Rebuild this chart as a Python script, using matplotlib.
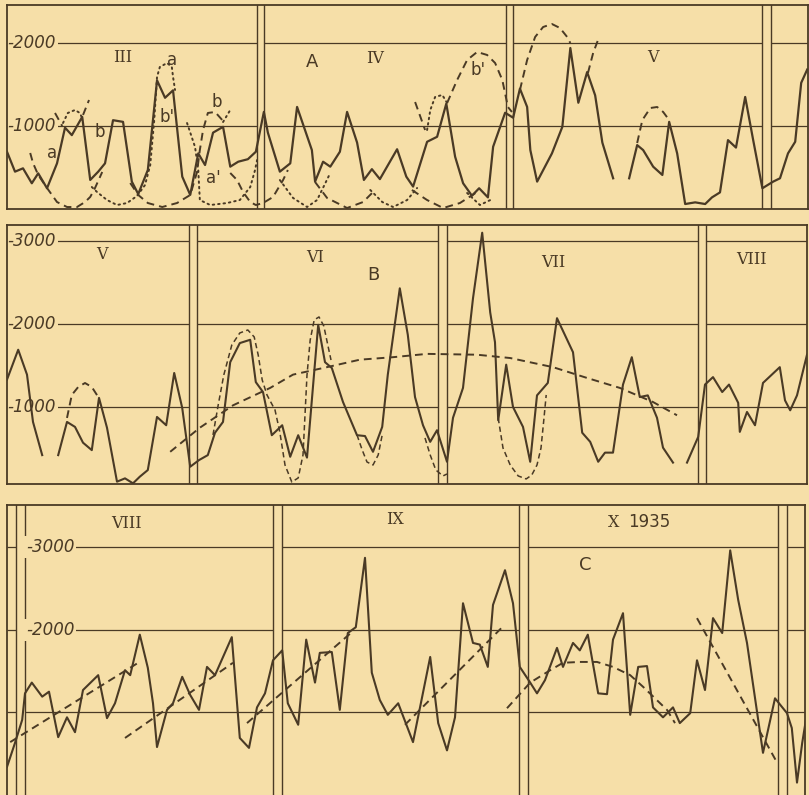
import numpy as np
import matplotlib.pyplot as plt

nan = np.nan
BG = '#f6dfa8'
INK = '#4a3a25'

# ---------------- panel A : III - V ----------------
a_day = [0, 1, 2, 3.1, 3.9, 5, 6.25, 7.25, 8.1, 9.4, 10.4, 11.4, 12.25, 13.25, 14.5, 15.6,
         16.4, 17.6, 18.75, 19.75, 20.75, 21.9, 22.9, 23.9, 24.75, 25.75, 27, 27.9, 28.9, 30.1,
         31.1, 32.1, 32.6, 34.1, 35.4, 36.25, 38.1, 38.5, 39.5, 40.4, 41.6, 42.5, 43.75, 44.6,
         45.6, 46.6, 48.75, 49.9, 50.75, 52.5, 53.75, 54.9, 56, 57, 58.1, 59, 60.1, 60.75, 62.25,
         63.25, 64.1, 65, 65.4, 66.25, 68.1, 69.4, 70.4, 71.4, 72.5, 73.5, 74.4, 75.75, nan,
         77.75, 78.75, 79.5, 80.75, 81.9, 82.75, 83.75, 84.75, 86, 87.25, 88.1, 89.1, 90.1,
         91.1, 92.25, 93.25, 94.4, 95.75, 96.6, 97.6, 98.5, 99.25, 100]
a_val = [690, 450, 490, 310, 430, 250, 550, 980, 890, 1110, 350, 450, 550, 1070, 1050, 330,
         180, 470, 1550, 1340, 1430, 390, 170, 670, 530, 920, 990, 510, 570, 600,
         690, 1170, 920, 450, 550, 1230, 710, 330, 570, 510, 690, 1170, 800, 350,
         480, 360, 720, 390, 270, 810, 870, 1270, 630, 310, 160, 250, 140, 750, 1160,
         1100, 1450, 1230, 710, 330, 670, 990, 1940, 1280, 1650, 1370, 800, 370, nan,
         370, 770, 710, 510, 410, 1050, 670, 60, 80, 60, 140, 200, 830,
         740, 1350, 830, 250, 330, 370, 670, 810, 1520, 1680]

# dashed envelopes (A)
a_dash_1 = [(6, 1157), (6.9, 1000)]
a_dash_2 = [(9.5, 1133), (10.25, 1313)]
a_dash_3 = [(2.9, 675), (3.25, 554), (3.9, 410), (5, 253), (6.25, 84), (7.5, 24), (8.75, 24),
            (9.75, 84), (10.4, 145), (11, 253), (11.9, 446)]
a_dash_4 = [(15.4, 313), (16.4, 169), (17.6, 72), (19.4, 24), (21.25, 72), (22.9, 169),
            (23.75, 446), (24.1, 711), (24.5, 952), (25.1, 1157), (26, 1169), (26.9, 1072)]
a_dash_5 = [(27.9, 434), (28.75, 349), (29.5, 205), (30.4, 84), (31.1, 48), (32, 72),
            (33.25, 145), (34.5, 349), (35.1, 470)]
a_dash_6 = [(38.5, 325), (40, 133), (42.5, 12), (44.5, 84), (46, 229)]
a_dash_7 = [(50.6, 229), (52.5, 108), (54.5, 12), (56.6, 72), (58.75, 205)]
a_dash_8 = [(51, 1289), (52.25, 952)]
a_dash_9 = [(55, 1277), (56.25, 1554), (57.5, 1795), (58.75, 1892), (60, 1856), (61, 1759),
            (61.9, 1554), (62.6, 1229), (63.1, 1169)]
a_dash_10 = [(64.1, 1434), (65, 1795), (66, 2073), (67, 2193), (68.1, 2229), (69.1, 2181),
             (70, 2073), (70.4, 2000)]
a_dash_11 = [(72.6, 1639), (73.25, 1880), (74, 2073)]
a_dash_12 = [(78.75, 795), (79.4, 1072), (80.4, 1217), (81.25, 1229), (82, 1169), (82.75, 1072)]

# dotted envelopes (A)
a_dot_1 = [(7, 1036), (7.6, 1157), (8.5, 1193), (9.1, 1157), (9.5, 1072)]
a_dot_2 = [(10.6, 265), (11.25, 205), (12.5, 108), (13.75, 48), (15, 72), (16.25, 157),
           (17.25, 289), (17.9, 530), (18.4, 1072), (18.75, 1591), (19.1, 1711), (20, 1759),
           (20.6, 1711), (20.75, 1591), (21, 1434)]
a_dot_3 = [(27, 1048), (27.9, 1193)]
a_dot_4 = [(22.5, 1036), (23, 892), (23.5, 747), (23.9, 470), (24.1, 108), (25.4, 48),
           (27.5, 72), (29.1, 108), (30.4, 265), (31, 470), (31.25, 590)]
a_dot_5 = [(34.1, 349), (35.75, 133), (37.5, 24), (38.75, 108), (40.4, 434)]
a_dot_6 = [(45.4, 229), (46.9, 84), (48.25, 24), (50, 108), (51.25, 253)]
a_dot_7 = [(57.5, 193), (59.1, 48), (60.4, 108)]
a_dot_8 = [(52.5, 952), (52.9, 1193), (53.5, 1350), (54.4, 1374), (55, 1277)]

# ---------------- panel B : V - VIII ----------------
b_day = [0, 1.4, 2.5, 3.25, 4.4, nan, 6.4, 7.5, 8.5, 9.5, 10.6, 11.5, 12.5, 13.75, 14.75, 15.75,
         16.6, 17.6, 18.75, 19.9, 20.9, 21.9, 22.9, 24, 25.1, 26, 27, 27.9, 29.1, 30.4, 31.1, 32,
         33.1, 34.4, 35.4, 36.4, 37.5, 38.9, 39.75, 40.6, 42, 43.75, 44.75, 45.75, 46.9, 47.6,
         49.1, 50.1, 51, 52, 52.9, 53.75, 55, 55.75, 57, 58.25, 59.4, 60.4, 61, 61.4, 62.4,
         63.25, 64.5, 65.4, 66.25, 67.6, 68.75, 70.75, 71.9, 72.9, 73.9, 74.75, 75.75, 77,
         78.1, 79.1, 80.1, 81.25, 82, 83.25, nan, 85, 86.4, 87.25, 88.25, 89.4, 90.25, 91.4,
         91.6, 92.5, 93.5, 94.5, 96.6, 97.25, 97.9, 98.75, 100]
b_val = [1330, 1690, 1390, 820, 420, nan, 420, 820, 760, 570, 480, 1110, 750, 100, 140, 80,
         160, 240, 880, 780, 1410, 990, 280, 360, 420, 690, 820, 1540, 1770, 1810, 1300, 1180,
         660, 780, 400, 660, 390, 1990, 1540, 1470, 1060, 660, 650, 460, 760, 1390,
         2430, 1870, 1120, 780, 580, 720, 340, 870, 1230, 2310, 3100, 2140, 1780, 840, 1510,
         1000, 760, 340, 1140, 1290, 2070, 1660, 690, 580, 340, 450, 450, 1270,
         1600, 1120, 1140, 870, 510, 330, nan, 330, 640, 1270, 1360, 1180, 1270, 1050,
         700, 940, 780, 1290, 1480, 1080, 960, 1140, 1630]

b_trend = [(20.4, 460), (24.1, 750), (28.25, 1020), (32.9, 1230), (35.75, 1390), (40, 1480),
           (44.1, 1570), (48.25, 1600), (52.5, 1640), (58.75, 1630), (62.9, 1590),
           (68.25, 1480), (72.5, 1350), (76.6, 1230), (80.75, 1060), (83.75, 900)]
b_cap = [(7.5, 868), (8.1, 1145), (8.9, 1241), (9.75, 1289), (10.6, 1241), (11.4, 1121)]
b_env_1 = [(25.75, 663), (26.4, 1024), (27.1, 1386), (28.1, 1747), (29.1, 1892), (30.1, 1928),
           (30.9, 1844), (31.4, 1627), (31.9, 1326), (32.5, 1145), (33.5, 964), (34.1, 699),
           (34.75, 301), (35.6, 96), (36.4, 145), (37, 422), (37.25, 904), (37.5, 1386),
           (37.9, 1808), (38.4, 2049), (39, 2085), (39.6, 1976), (40.1, 1747), (40.5, 1566)]
b_env_2 = [(43.75, 663), (44.4, 482), (45, 337), (45.75, 301), (46.4, 422), (46.9, 663)]
b_env_3 = [(52.25, 627), (52.9, 422), (53.6, 241), (54.5, 169), (55, 193)]
b_env_4 = [(61.4, 868), (62, 506), (62.9, 301), (63.9, 169), (64.9, 133), (65.6, 181),
           (66.25, 301), (66.75, 506), (67.1, 843), (67.4, 1145)]

# ---------------- panel C : VIII - X 1935 ----------------
c_day = [0, 1, 1.9, 2.25, 3.1, 4.4, 5.25, 6.4, 7.5, 8.5, 9.5, 11.4, 12.5, 13.5, 14.75, 15.4,
         16.6, 17.6, 18.25, 18.75, 20, 20.75, 21.9, 22.9, 24, 25, 26, 28.1, 29.1, 30.25, 31.25,
         32.25, 33.25, 34.4, 35.1, 36.4, 37.4, 38.5, 39.1, 40.6, 41.6, 42.6, 43.6, 44.75, 45.6,
         46.6, 47.6, 48.9, 50.75, 51.9, 52.9, 53.9, 55, 56, 57, 58.25, 59.1, 60.1, 60.75, 62.25,
         63.25, 64.1, 65.4, 66.25, 67.25, 68.75, 69.5, 70.75, 71.6, 72.6, 73.9, 75, 75.75, 77,
         77.9, 78.9, 80, 80.75, 82, 83.25, 84.1, 85.4, 86.25, 87.25, 88.25, 89.4, 90.4, 91.4,
         92.5, 94.5, 96, 97.5, 98.1, 98.75, 99.4, 100]
c_val = [340, 630, 910, 1230, 1360, 1190, 1250, 700, 940, 760, 1270, 1450, 930, 1110, 1510, 1450,
         1940, 1540, 1110, 580, 1030, 1110, 1430, 1210, 1030, 1550, 1450, 1910, 690, 570, 1060,
         1230, 1630, 1750, 1110, 850, 1880, 1360, 1720, 1730, 1030, 1960, 2030, 2870, 1480,
         1150, 970, 1110, 640, 1190, 1670, 870, 540, 940, 2320, 1840, 1820, 1550, 2300, 2720,
         2320, 1550, 1360, 1230, 1390, 1780, 1550, 1840, 1750, 1940, 1230, 1220, 1880, 2200,
         970, 1550, 1560, 1060, 940, 1060, 870, 990, 1630, 1270, 2140, 1960, 2960, 2360,
         1840, 510, 1170, 990, 810, 150, 630, 990]

c_dash_1 = [(0.4, 640), (16.4, 1600)]
c_dash_2 = [(14.75, 690), (28.25, 1600)]
c_dash_3 = [(30, 870), (43.1, 1970)]
c_dash_4 = [(49.75, 850), (61.9, 2030)]
c_dash_5 = [(62.5, 1050), (65.4, 1360), (67.9, 1510), (69.5, 1600), (71.6, 1610), (73.75, 1610),
            (75.75, 1550), (77.9, 1450), (79.5, 1310), (81, 1170), (82.5, 1030), (83.5, 870)]
c_dash_6 = [(86.25, 2140), (96.1, 420)]

# ---------------- drawing ----------------
W, H = 809, 795
fig = plt.figure(figsize=(W / 100, H / 100), dpi=100, facecolor=BG)


def px_axes(left, top, right, bottom):
    return fig.add_axes([left / W, 1 - bottom / H, (right - left) / W, (bottom - top) / H])


def setup(ax, xmax, ylo, yhi, seps, levels, hide_bottom=False):
    ax.set_xlim(0, xmax)
    ax.set_ylim(ylo, yhi)
    ax.set_facecolor('none')
    ax.set_xticks([])
    ax.set_yticks([])
    for s in ax.spines.values():
        s.set_color(INK)
        s.set_linewidth(1.3)
        s.set_zorder(5)
    if hide_bottom:
        ax.spines['bottom'].set_visible(False)
    edges = [0] + [x for pair in seps for x in pair] + [xmax]
    for l, r in seps:
        ax.axvline(l, color=INK, lw=1.0, zorder=1)
        ax.axvline(r, color=INK, lw=1.0, zorder=1)
    for lev in levels:
        for i in range(0, len(edges), 2):
            ax.hlines(lev, edges[i], edges[i + 1], color=INK, lw=0.9, zorder=1)


def curve(ax, pts, style):
    x, y = zip(*pts)
    if style == 'dash':
        ax.plot(x, y, color=INK, lw=1.4, ls=(0, (4, 2.6)), zorder=3)
    elif style == 'dot':
        ax.plot(x, y, color=INK, lw=1.4, ls=(0, (0.8, 2.0)), dash_capstyle='round', zorder=3)
    else:
        ax.plot(x, y, color=INK, lw=1.1, ls=(0, (3.5, 2.2)), zorder=3)


def ylabel(ax, x, y, s):
    ax.text(x, y, s, ha='left', va='center', fontsize=12, style='italic', color=INK,
            bbox=dict(fc=BG, ec='none', pad=1.5), zorder=2)


def roman(ax, x, y, s):
    ax.text(x, y, s, ha='center', va='center', fontsize=11.5, family='DejaVu Serif', color=INK)


def note(ax, x, y, s, size=12):
    ax.text(x, y, s, ha='center', va='center', fontsize=size, color=INK)


# panel A
axA = px_axes(7, 5, 808, 209)
setup(axA, 100.1, 0, 2458, [(31.25, 32.1), (62.4, 63.25), (94.4, 95.5)], [1000, 2000])
axA.plot(a_day, a_val, color=INK, lw=1.6, zorder=4)
for p in [a_dash_1, a_dash_2, a_dash_3, a_dash_4, a_dash_5, a_dash_6, a_dash_7, a_dash_8,
          a_dash_9, a_dash_10, a_dash_11, a_dash_12]:
    curve(axA, p, 'dash')
for p in [a_dot_1, a_dot_2, a_dot_3, a_dot_4, a_dot_5, a_dot_6, a_dot_7, a_dot_8]:
    curve(axA, p, 'dot')
ylabel(axA, 0.05, 2000, '-2000')
ylabel(axA, 0.05, 1000, '-1000')
roman(axA, 14.5, 1820, 'III')
roman(axA, 46, 1808, 'IV')
roman(axA, 80.75, 1820, 'V')
note(axA, 20.6, 1795, 'a')
note(axA, 26.25, 1289, 'b')
note(axA, 20, 1109, "b'")
note(axA, 5.6, 675, 'a')
note(axA, 11.6, 928, 'b')
note(axA, 25.75, 374, "a'")
note(axA, 38.1, 1771, 'A', 13)
note(axA, 58.9, 1675, "b'")

# panel B
axB = px_axes(7, 225, 807, 484)
setup(axB, 100, 72, 3193, [(22.75, 23.75), (53.9, 55.0), (86.4, 87.4)], [1000, 2000, 3000])
axB.plot(b_day, b_val, color=INK, lw=1.5, zorder=4)
curve(axB, b_trend, 'dash')
curve(axB, b_cap, 'dash')
for p in [b_env_1, b_env_2, b_env_3, b_env_4]:
    curve(axB, p, 'fine')
ylabel(axB, 0.05, 3000, '-3000')
ylabel(axB, 0.05, 2000, '-2000')
ylabel(axB, 0.05, 1000, '-1000')
roman(axB, 11.9, 2832, 'V')
roman(axB, 38.5, 2796, 'VI')
roman(axB, 68.25, 2747, 'VII')
roman(axB, 93.1, 2772, 'VIII')
note(axB, 45.75, 2591, 'B', 13)

# panel C
axC = px_axes(7, 505, 805, 795)
setup(axC, 99.75, 0, 3509, [(1.1, 2.25), (33.25, 34.4), (64.0, 65.1), (96.4, 97.5)],
      [1000, 2000, 3000], hide_bottom=True)
axC.plot(c_day, c_val, color=INK, lw=1.5, zorder=4)
for p in [c_dash_1, c_dash_2, c_dash_3, c_dash_4, c_dash_5, c_dash_6]:
    curve(axC, p, 'dash')
ylabel(axC, 2.35, 3000, '-3000')
ylabel(axC, 2.35, 2000, '-2000')
roman(axC, 14.9, 3291, 'VIII')
roman(axC, 48.5, 3328, 'IX')
axC.text(75.1, 3303, 'X', ha='left', va='center', fontsize=11.5, family='DejaVu Serif', color=INK)
axC.text(77.6, 3303, '1935', ha='left', va='center', fontsize=12, color=INK)
note(axC, 72.25, 2783, 'C', 13)

fig.savefig('out.png', dpi=100, facecolor=BG)
